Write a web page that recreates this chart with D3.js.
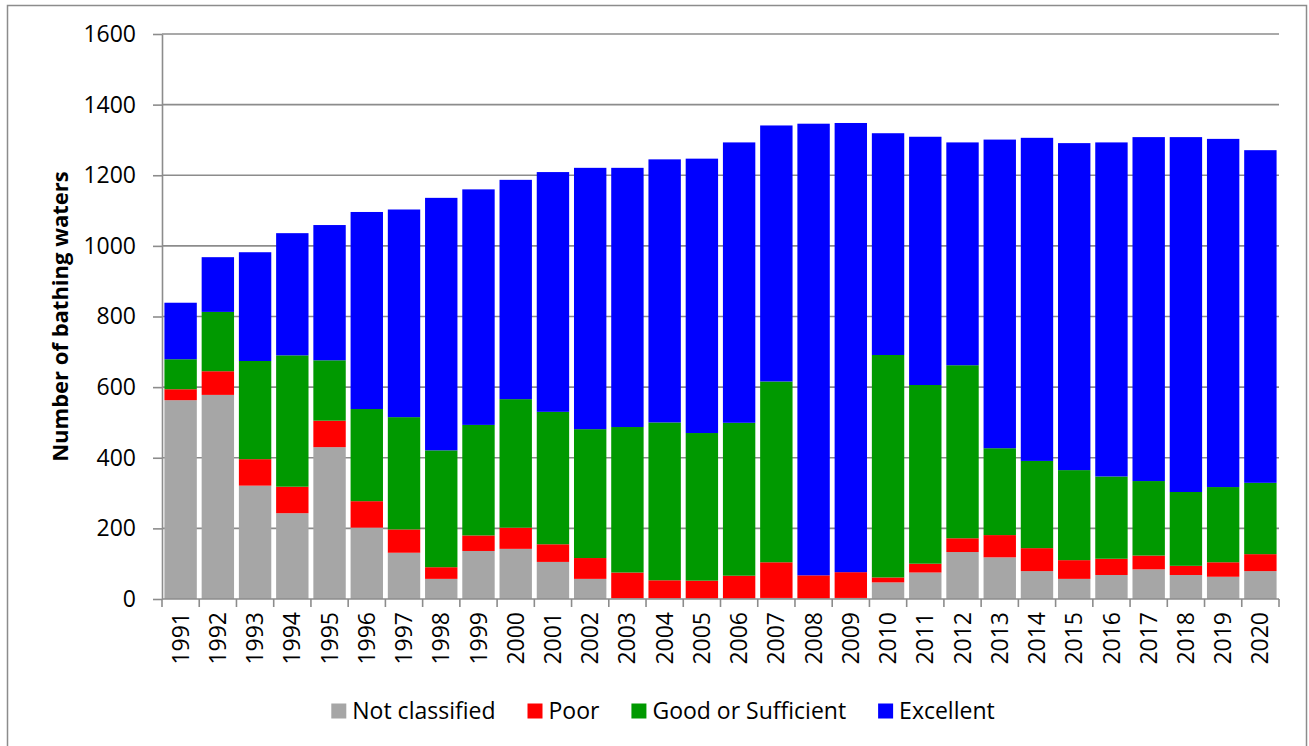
<!DOCTYPE html>
<html>
<head>
<meta charset="utf-8">
<script src="https://cdn.jsdelivr.net/npm/d3@7"></script>
<style>
  html, body { margin: 0; padding: 0; background: #fff; }
  text { font-family: "Open Sans", "Noto Sans", sans-serif; fill: #000; }
</style>
</head>
<body>
<div id="chart"></div>
<script>
"use strict";

const years = [1991, 1992, 1993, 1994, 1995, 1996, 1997, 1998, 1999, 2000,
  2001, 2002, 2003, 2004, 2005, 2006, 2007, 2008, 2009, 2010,
  2011, 2012, 2013, 2014, 2015, 2016, 2017, 2018, 2019, 2020];
const notClassified = [563, 578, 321, 243, 430, 202, 131, 57, 136, 142,
  105, 57, 2, 2, 1, 1, 3, 1, 3, 47,
  75, 133, 118, 79, 57, 68, 84, 68, 63, 79];
const poor = [31, 67, 75, 75, 75, 75, 66, 33, 44, 60,
  50, 59, 73, 51, 51, 65, 101, 66, 73, 14,
  25, 39, 63, 65, 53, 46, 39, 26, 41, 48];
const goodOrSufficient = [85, 168, 278, 372, 171, 261, 318, 331, 313, 364,
  375, 365, 412, 447, 418, 433, 512, 0, 0, 630,
  506, 490, 246, 247, 255, 233, 211, 209, 213, 202];
const excellent = [160, 155, 308, 346, 383, 558, 588, 715, 667, 621,
  679, 740, 734, 745, 777, 794, 725, 1279, 1272, 628,
  703, 631, 874, 915, 926, 946, 974, 1005, 986, 942];
const seriesNames = ["Not classified", "Poor", "Good or Sufficient", "Excellent"];
const seriesColors = ["#a6a6a6", "#ff0000", "#009900", "#0000ff"];
const yTicks = [0, 200, 400, 600, 800, 1000, 1200, 1400, 1600];

const svgWidth = 1309;
const svgHeight = 746;
const plotLeft = 162;
const plotRight = 1279;
const plotTop = 34;
const plotBottom = 599;
const fontSize = 23;
const gridColor = "#8c8c8c";

// one row per year, stacked in legend order
const rows = years.map((y, i) => ({
  year: y,
  "Not classified": notClassified[i],
  "Poor": poor[i],
  "Good or Sufficient": goodOrSufficient[i],
  "Excellent": excellent[i]
}));
const stacked = d3.stack().keys(seriesNames)(rows);

const svg = d3.select("#chart")
  .append("svg")
  .attr("width", svgWidth)
  .attr("height", svgHeight)
;

// outer frame
svg.append("rect")
  .attr("x", 7.5)
  .attr("y", 5.5)
  .attr("width", 1299)
  .attr("height", 760)
  .attr("fill", "none")
  .attr("stroke", gridColor)
  .attr("stroke-width", 1.5)
;

const xScale = d3.scaleBand()
  .domain(years)
  .range([plotLeft, plotRight])
  .paddingInner(0.13)
  .paddingOuter(0.065)
;
const yScale = d3.scaleLinear()
  .domain([0, 1600])
  .range([plotBottom, plotTop])
;

// horizontal gridlines
svg.append("g")
  .selectAll("line")
  .data(yTicks.slice(1))
  .enter()
  .append("line")
  .attr("x1", plotLeft)
  .attr("x2", plotRight)
  .attr("y1", d => yScale(d))
  .attr("y2", d => yScale(d))
  .attr("stroke", gridColor)
  .attr("stroke-width", 1.6)
;

// stacked bars
svg.append("g")
  .selectAll("g")
  .data(stacked)
  .enter()
  .append("g")
  .attr("fill", (d, i) => seriesColors[i])
  .selectAll("rect")
  .data(d => d)
  .enter()
  .append("rect")
  .attr("x", d => xScale(d.data.year))
  .attr("width", xScale.bandwidth())
  .attr("y", d => yScale(d[1]))
  .attr("height", d => yScale(d[0]) - yScale(d[1]))
;

// y axis
const yAxis = d3.axisLeft(yScale)
  .tickValues(yTicks)
  .tickFormat(d3.format("d"))
  .tickSize(9)
  .tickPadding(17)
  .tickSizeOuter(0)
;
const yAxisG = svg.append("g")
  .attr("transform", `translate(${plotLeft}, 0)`)
  .call(yAxis)
;
yAxisG.selectAll("line, path").attr("stroke", gridColor).attr("stroke-width", 1.6);
yAxisG.selectAll("text")
  .style("font-size", fontSize + "px")
  .style("font-family", "'Open Sans', sans-serif")
;

// x axis: ticks sit on the band boundaries
const step = xScale.step();
const boundaries = years.map(y => xScale(y) - step * xScale.paddingInner() / 2).concat([plotRight]);
const xAxisG = svg.append("g");
xAxisG.append("line")
  .attr("x1", plotLeft)
  .attr("x2", plotRight)
  .attr("y1", plotBottom)
  .attr("y2", plotBottom)
  .attr("stroke", gridColor)
  .attr("stroke-width", 1.6)
;
xAxisG.selectAll(".tick")
  .data(boundaries)
  .enter()
  .append("line")
  .attr("class", "tick")
  .attr("x1", d => d)
  .attr("x2", d => d)
  .attr("y1", plotBottom)
  .attr("y2", plotBottom + 8)
  .attr("stroke", gridColor)
  .attr("stroke-width", 1.6)
;
xAxisG.selectAll("text")
  .data(years)
  .enter()
  .append("text")
  .attr("transform", d => `translate(${xScale(d) + xScale.bandwidth() / 2}, 612) rotate(-90)`)
  .attr("text-anchor", "end")
  .attr("dy", "0.35em")
  .style("font-size", fontSize + "px")
  .text(d => d)
;

// y axis title
svg.append("text")
  .attr("transform", `translate(60, ${(plotTop + plotBottom) / 2}) rotate(-90)`)
  .attr("text-anchor", "middle")
  .attr("dy", "0.35em")
  .style("font-size", "22px")
  .style("font-weight", "bold")
  .text("Number of bathing waters")
;

// legend, centred under the chart
const legend = svg.append("g");
let cursor = 0;
seriesNames.forEach((name, i) => {
  const item = legend.append("g").attr("transform", `translate(${cursor}, 0)`);
  item.append("rect")
    .attr("x", 0)
    .attr("y", -7.5)
    .attr("width", 15)
    .attr("height", 15)
    .attr("fill", seriesColors[i])
  ;
  const label = item.append("text")
    .attr("x", 21)
    .attr("dy", "0.35em")
    .style("font-size", fontSize + "px")
    .text(name)
  ;
  cursor += 21 + label.node().getComputedTextLength() + 32;
});
const legendWidth = cursor - 32;
legend.attr("transform", `translate(${663 - legendWidth / 2}, 711)`);
</script>
</body>
</html>
